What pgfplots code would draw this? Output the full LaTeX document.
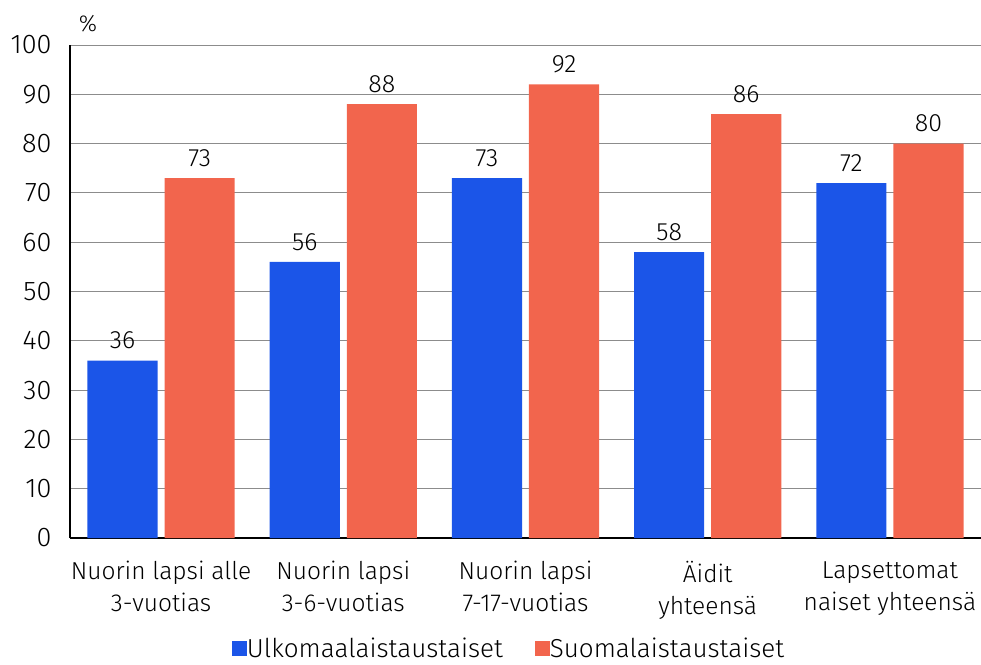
\documentclass[border=0pt]{standalone}
\usepackage{pgfplots}
\pgfplotsset{compat=1.18}
\usepackage{fontspec}
\setmainfont{Fira Sans}[UprightFont=* Light]
\definecolor{cblue}{RGB}{27,85,232}
\definecolor{cred}{RGB}{242,101,77}
\begin{document}
\begin{tikzpicture}[x=1pt,y=1pt]
\begin{axis}[
  name=ax,
  at={(0,0)}, anchor=south west,
  scale only axis, width=911pt, height=493pt,
  xmin=-0.5, xmax=4.5, ymin=0, ymax=100,
  ybar, bar width=0.385, bar shift auto,
  xtick={0,1,2,3,4},
  xticklabels={Nuorin lapsi alle\\3-vuotias, Nuorin lapsi\\3-6-vuotias, Nuorin lapsi\\7-17-vuotias, Äidit\\yhteensä, Lapsettomat\\naiset yhteensä},
  xticklabel style={align=center, font=\fontsize{24.5}{32}\selectfont, yshift=-20pt},
  ytick={0,10,...,100},
  yticklabel style={font=\fontsize{27}{30}\selectfont, xshift=-15pt},
  /pgf/number format/assume math mode=true,
  major tick length=0pt,
  xtick style={draw=none}, ytick style={draw=none},
  axis x line*=bottom, axis y line*=left,
  axis line style={black, line width=1.2pt, -},
  ymajorgrids, grid style={gray!90, line width=0.8pt},
  enlarge x limits=false,
  nodes near coords,
  nodes near coords style={font=\fontsize{25}{28}\selectfont, black, yshift=8pt},
  every node near coord/.append style={/pgf/number format/assume math mode=true},
  legend style={draw=none, at={(0.482,-0.225)}, anchor=center, font=\fontsize{26}{30}\selectfont, legend columns=2, /tikz/every even column/.append style={column sep=30pt}, /tikz/every odd column/.append style={column sep=-2pt}, inner sep=0pt},
  legend image code/.code={\fill[#1] (0pt,-7.5pt) rectangle (15pt,7.5pt);},
  clip=false,
]
\addplot[fill=cblue, draw=none, bar shift=-0.2115] coordinates {(0,36) (1,56) (2,73) (3,58) (4,72)};
\addplot[fill=cred, draw=none, bar shift=0.2115] coordinates {(0,73) (1,88) (2,92) (3,86) (4,80)};
\legend{Ulkomaalaistaustaiset, Suomalaistaustaiset}
\end{axis}
\node[font=\fontsize{23}{26}\selectfont, anchor=center] at (18,514) {\%};
\pgfresetboundingbox
\path (-70,-126) rectangle (911,538);
\end{tikzpicture}
\end{document}
